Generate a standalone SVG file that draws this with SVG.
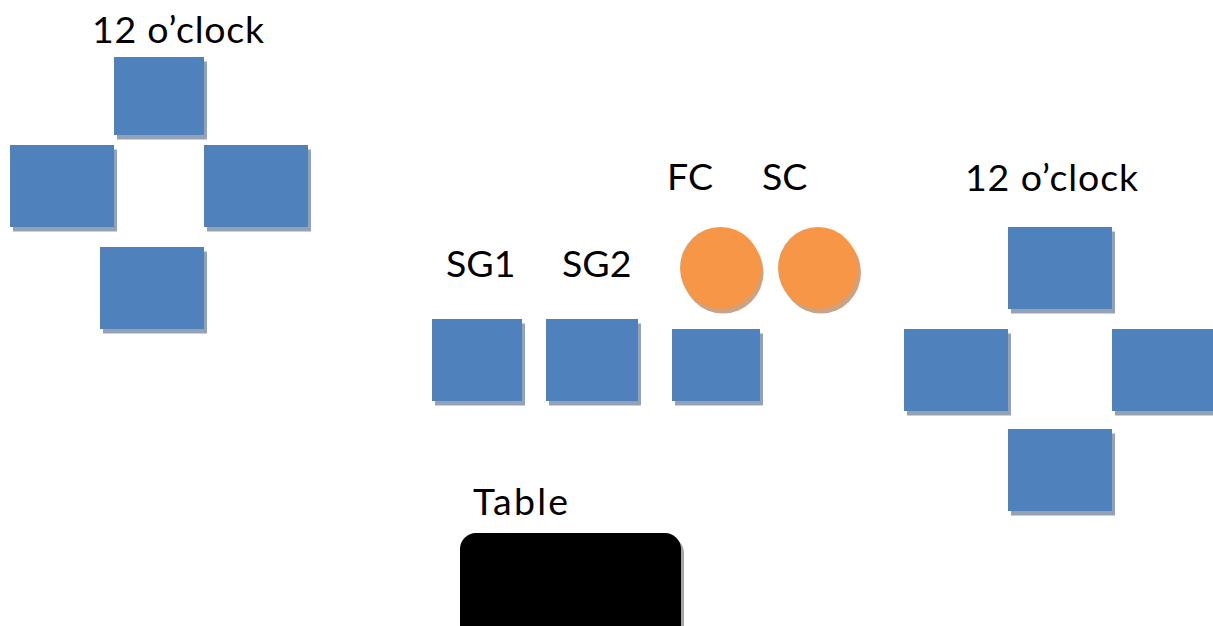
<svg xmlns="http://www.w3.org/2000/svg" width="1213" height="626" viewBox="0 0 1213 626">
<style>
.seat{fill:#4F81BD}
.sh{fill:#95A2B3}
.chair{fill:#F79646}
.csh{fill:#C9A386}
.lbl{font-family:Lato,"Open Sans",sans-serif;font-size:37.5px;fill:#000}
</style>
<rect width="1213" height="626" fill="#fff"/>
<g id="left-label"><text class="lbl" x="92" y="43" textLength="172" lengthAdjust="spacing">12 o’clock</text></g>
<g id="left-top"><rect class="sh" x="117" y="61.5" width="90" height="78"/><rect class="seat" x="114" y="57" width="90" height="78"/></g>
<g id="left-left"><rect class="sh" x="13" y="149.5" width="104" height="82"/><rect class="seat" x="10" y="145" width="104" height="82"/></g>
<g id="left-right"><rect class="sh" x="207" y="149.5" width="104" height="82"/><rect class="seat" x="204" y="145" width="104" height="82"/></g>
<g id="left-bottom"><rect class="sh" x="103" y="251.5" width="104" height="82"/><rect class="seat" x="100" y="247" width="104" height="82"/></g>

<g id="sg1"><text class="lbl" x="446" y="277">SG1</text><rect class="sh" x="435" y="323.5" width="90" height="82"/><rect class="seat" x="432" y="319" width="90" height="82"/></g>
<g id="sg2"><text class="lbl" x="562" y="277">SG2</text><rect class="sh" x="549" y="323.5" width="92" height="82"/><rect class="seat" x="546" y="319" width="92" height="82"/></g>
<g id="fc-seat"><rect class="sh" x="675" y="333.5" width="88" height="72"/><rect class="seat" x="672" y="329" width="88" height="72"/></g>
<g id="fc"><text class="lbl" x="667" y="190">FC</text><ellipse class="csh" cx="723" cy="272.5" rx="40.5" ry="41"/><ellipse class="chair" cx="720.5" cy="268" rx="40.5" ry="41"/></g>
<g id="sc"><text class="lbl" x="762" y="190">SC</text><ellipse class="csh" cx="821" cy="272.5" rx="40" ry="41"/><ellipse class="chair" cx="818" cy="268" rx="40" ry="41"/></g>

<g id="right-label"><text class="lbl" x="965" y="191" textLength="173" lengthAdjust="spacing">12 o’clock</text></g>
<g id="right-top"><rect class="sh" x="1011" y="231.5" width="104" height="82"/><rect class="seat" x="1008" y="227" width="104" height="82"/></g>
<g id="right-left"><rect class="sh" x="907" y="333.5" width="104" height="82"/><rect class="seat" x="904" y="329" width="104" height="82"/></g>
<g id="right-right"><rect class="sh" x="1115" y="333.5" width="104" height="82"/><rect class="seat" x="1112" y="329" width="104" height="82"/></g>
<g id="right-bottom"><rect class="sh" x="1011" y="433.5" width="104" height="82"/><rect class="seat" x="1008" y="429" width="104" height="82"/></g>

<g id="table"><text class="lbl" x="473" y="515" textLength="95" lengthAdjust="spacing">Table</text><rect x="463" y="537" width="221" height="110" rx="16" fill="#A6A6A6"/><rect x="460" y="533" width="221" height="110" rx="16" fill="#000"/></g>
<g id="connectors"/>
</svg>
